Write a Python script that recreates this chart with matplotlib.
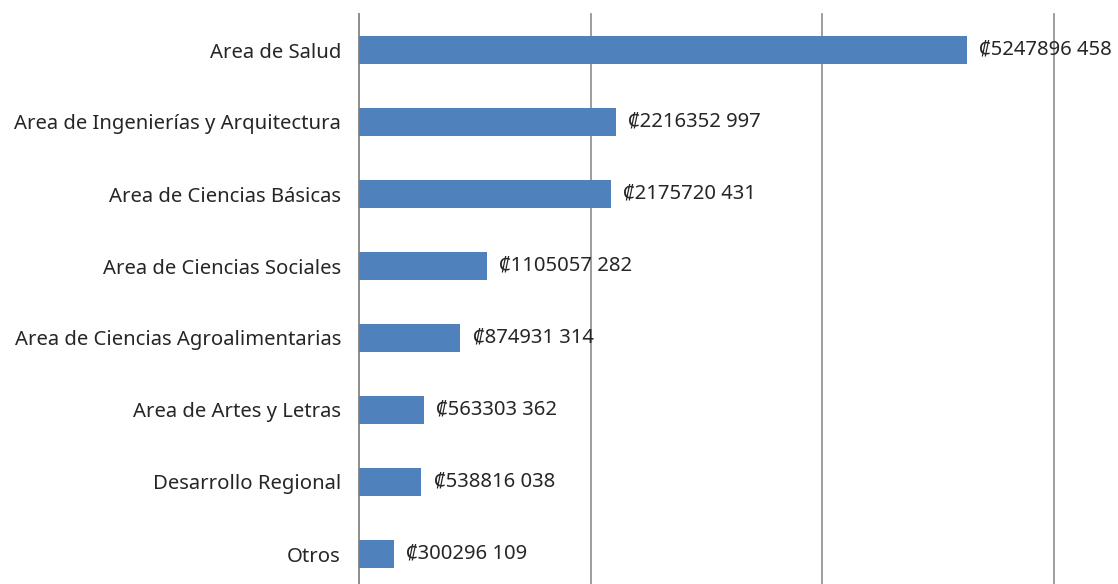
import matplotlib
matplotlib.use("Agg")
import matplotlib.pyplot as plt

categories = ["Area de Salud", "Area de Ingenierías y Arquitectura", "Area de Ciencias Básicas",
              "Area de Ciencias Sociales", "Area de Ciencias Agroalimentarias",
              "Area de Artes y Letras", "Desarrollo Regional", "Otros"]
values = [5247896458, 2216352997, 2175720431, 1105057282, 874931314, 563303362, 538816038, 300296109]
labels = ["₡5247896 458", "₡2216352 997", "₡2175720 431", "₡1105057 282",
          "₡874931 314", "₡563303 362", "₡538816 038", "₡300296 109"]
xticks = [0, 2e9, 4e9, 6e9]

plt.rcParams['font.family'] = ['Noto Sans', 'DejaVu Sans']

W, H = 1118, 584
fig = plt.figure(figsize=(W/100, H/100), dpi=100)
ax = fig.add_axes([359/W, 1 - 590/H, (1054-359)/W, (590-14)/H])

ypos = list(range(len(categories)))
ax.barh(ypos, values, height=0.39, color="#4F81BD", zorder=3)
ax.set_ylim(len(categories) - 0.5, -0.5)
ax.set_xlim(0, 6e9)
ax.set_xticks(xticks)
ax.xaxis.grid(True, color="#8c8c8c", linewidth=1.2, zorder=0)
for gl in ax.get_xgridlines():
    gl.set_clip_on(False)
ax.tick_params(axis='x', length=0, labelbottom=False)
ax.tick_params(axis='y', length=0, labelsize=14.6, pad=13, labelcolor="#262626")
ax.set_yticks(ypos)
ax.set_yticklabels(categories)
for s in ["top", "right", "bottom"]:
    ax.spines[s].set_visible(False)
ax.spines["left"].set_color("#8c8c8c")
ax.spines["left"].set_linewidth(1.2)

for y, v, lab in zip(ypos, values, labels):
    ax.text(v + 1.05e8, y, lab, va="center", ha="left", fontsize=14.6, color="#262626", zorder=4, clip_on=False)

fig.savefig("out.png", dpi=100)
